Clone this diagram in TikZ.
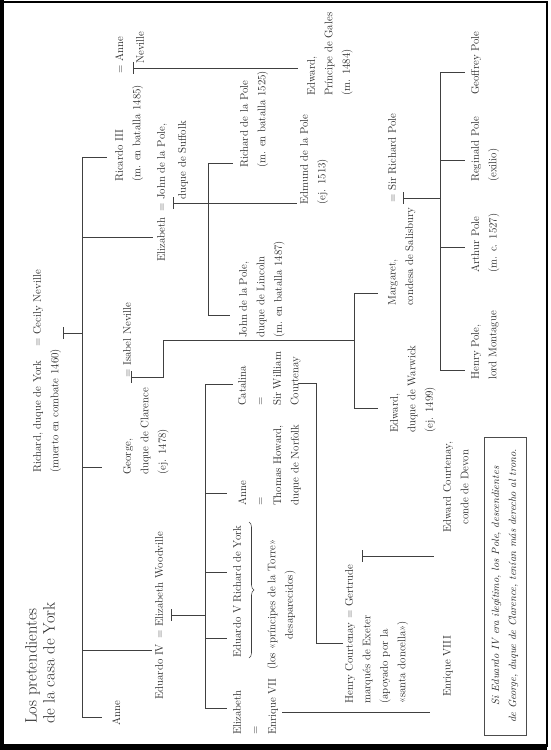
\documentclass[tikz,border=0pt]{standalone}
\usepackage{fontspec}
\usetikzlibrary{decorations.pathreplacing}

\tikzset{
  person/.style={rotate=90, anchor=north west, inner sep=0pt, align=left,
    text=black!85, font=\fontsize{11}{17.5}\selectfont},
  heading/.style={rotate=90, anchor=north west, inner sep=0pt, align=left,
    text=black!85, font=\fontsize{16.5}{18}\selectfont},
  tree/.style={draw=black!75, line width=0.55pt},
  wedmark/.style={draw=black!75, line width=0.55pt},
}

\begin{document}
\begin{tikzpicture}[x=1pt,y=-1pt]
  \useasboundingbox (0,0) rectangle (550,750);
  % Frame
  \draw[line width=1.3pt] (3,2) rectangle (547,746);
  \fill (0,0) rectangle (4,750);
  \fill (0,744) rectangle (547,750);

  % Title
  \node[heading] (title) at (25,724) {Los pretendientes\\de la casa de York};

  % Richard, duque de York = Cecily Neville
  \node[person] (richard) at (33,473) {Richard, duque de York\\(muerto en combate 1460)};
  \node[person] (cecily) at (33,347) {= Cecily Neville};
  \coordinate (rcwed) at (63,333);
  \coordinate (rctop) at (82,157);
  \coordinate (rcbot) at (82,717);
  \draw[wedmark] (63,327) -- (63,339);
  \draw[tree] (rcwed) -- (rcwed -| rctop);
  \draw[tree] (rctop) -- (rcbot);
  \draw[tree] (rctop) -- ++(25,0);
  \draw[tree] (82,237) -- ++(71,0);
  \draw[tree] (82,467) -- ++(20,0);
  \draw[tree] (82,650) -- ++(70,0);
  \draw[tree] (rcbot) -- ++(20,0);

  \node[person] (anneY) at (112,726) {Anne};

  % Ricardo III = Anne Neville
  \node[person] (ricardo) at (115,182) {Ricardo III\\(m. en batalla 1485)};
  \node[person] (anneN) at (115,74) {= Anne};
  \node[person] (neville) at (136,64) {Neville};
  \coordinate (rawed) at (133,68);
  \draw[wedmark] (133,62) -- (133,74);
  \draw[tree] (rawed) -- (298,68);
  \node[person] (edwardG) at (307,96) {Edward,\\Príncipe de Gales\\(m. 1484)};

  % Elizabeth = John de la Pole
  \node[person] (elizabeth) at (157,262) {Elizabeth};
  \node[person] (johnS) at (157,212) {= John de la Pole,};
  \node[person] (suffolk) at (178,200) {duque de Suffolk};
  \coordinate (ejwed) at (173,203);
  \coordinate (ejtop) at (208,163);
  \coordinate (ejbot) at (208,315);
  \draw[wedmark] (173,197) -- (173,209);
  \draw[tree] (ejwed) -- (297,203);
  \draw[tree] (ejtop) -- (ejbot);
  \draw[tree] (ejtop) -- ++(25,0);
  \draw[tree] (ejbot) -- ++(22,0);
  \node[person] (richardP) at (240,168) {Richard de la Pole\\(m. en batalla 1525)};
  \node[person] (edmund) at (300,205) {Edmund de la Pole\\(ej. 1513)};
  \node[person] (johnL) at (239,338) {John de la Pole,\\duque de Lincoln\\(m. en batalla 1487)};

  % George = Isabel Neville
  \node[person] (george) at (123,475) {George,\\duque de Clarence\\(ej. 1478)};
  \node[person] (isabel) at (123,378) {= Isabel Neville};
  \coordinate (giwed) at (131,377);
  \coordinate (gitop) at (354,293);
  \coordinate (gibot) at (354,408);
  \draw[wedmark] (131,371) -- (131,383);
  \draw[tree] (giwed) -- (163,377) -- (163,340) -- (354,340);
  \draw[tree] (gitop) -- (gibot);
  \draw[tree] (gitop) -- ++(24,0);
  \draw[tree] (gibot) -- ++(24,0);
  \node[person] (margaret) at (388,306) {Margaret,\\condesa de Salisbury};
  \node[person] (pole) at (388,203) {= Sir Richard Pole};
  \node[person] (edwardW) at (390,433) {Edward,\\duque de Warwick\\(ej. 1499)};

  % Margaret = Sir Richard Pole
  \coordinate (mrwed) at (403,198);
  \coordinate (mrtop) at (440,72);
  \coordinate (mrbot) at (440,370);
  \draw[wedmark] (403,192) -- (403,204);
  \draw[tree] (mrwed) -- (mrwed -| mrtop);
  \draw[tree] (mrtop) -- (mrbot);
  \foreach \yy in {72,160,247,370}
    \draw[tree] (440,\yy) -- ++(25,0);
  \node[person] (geoffrey) at (471,95) {Geoffrey Pole};
  \node[person] (reginald) at (471,182) {Reginald Pole\\(exilio)};
  \node[person] (arthur) at (471,273) {Arthur Pole\\(m. c. 1527)};
  \node[person] (henryP) at (471,380) {Henry Pole,\\lord Montague};

  % Eduardo IV = Elizabeth Woodville
  \node[person] (eduardo) at (155,700) {Eduardo IV};
  \node[person] (woodville) at (155,639) {= Elizabeth Woodville};
  \coordinate (ewwed) at (171,615);
  \coordinate (ewtop) at (205,384);
  \coordinate (ewbot) at (205,708);
  \draw[wedmark] (171,609) -- (171,621);
  \draw[tree] (ewwed) -- (ewwed -| ewtop);
  \draw[tree] (ewtop) -- (ewbot);
  \draw[tree] (ewtop) -- ++(28,0);
  \foreach \yy in {493,572,638,708}
    \draw[tree] (205,\yy) -- ++(22,0);
  \node[person] (elizabethY) at (233,735) {Elizabeth\\=\\Enrique VII};
  \node[person] (eduardoV) at (233,658) {Eduardo V\hspace{3pt}Richard de York};
  \draw[tree, decorate, decoration={brace, amplitude=5pt, mirror}]
    (249,658) -- (249,522);
  \node[person, align=center] (torre) at (267,670)
    {(los «príncipes de la Torre»\\desaparecidos)};
  \node[person] (anneE) at (238,506) {Anne\\=\\Thomas Howard,\\duque de Norfolk};
  \node[person] (catalina) at (238,406) {Catalina\\=\\Sir William\\Courtenay};

  % Enrique VII -> Enrique VIII
  \draw[tree] (282,712) -- (430,712);
  \node[person] (enrique) at (443,697) {Enrique VIII};

  % Catalina = Sir William Courtenay
  \draw[tree] (298,383) -- (316,383) -- (316,643) -- (343,643);
  \node[person] (henryC) at (345,704)
    {Henry Courtenay = Gertrude\\marqués de Exeter\\(apoyado por la\\«santa doncella»)};
  \coordinate (hgwed) at (362,556);
  \draw[wedmark] (362,550) -- (362,562);
  \draw[tree] (hgwed) -- (434,556);
  \node[person, align=center] (edwardC) at (443,533) {Edward Courtenay,\\conde de Devon};

  % Note
  \draw[line width=0.6pt, draw=black!70] (484,437) rectangle (526,735);
  \node[rotate=90, align=center, inner sep=0pt, text=black!85,
    font=\fontsize{10.5}{17}\selectfont\itshape] (note) at (505,586)
    {Si Eduardo IV era ilegítimo, los Pole, descendientes\\de George, duque de Clarence, tenían más derecho al trono.};
\end{tikzpicture}
\end{document}
